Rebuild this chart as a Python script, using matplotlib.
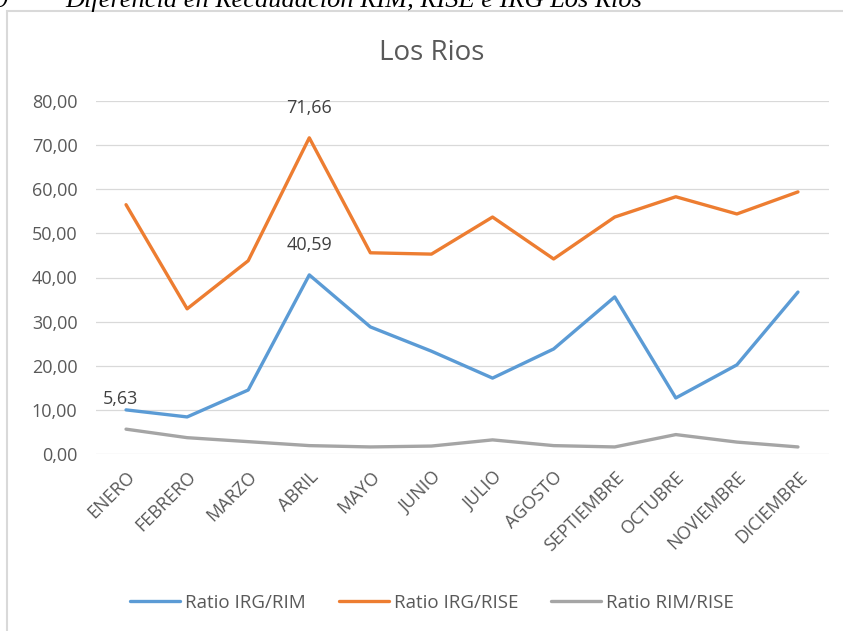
import matplotlib.pyplot as plt
from matplotlib.patches import Rectangle

meses = ["ENERO", "FEBRERO", "MARZO", "ABRIL", "MAYO", "JUNIO", "JULIO",
         "AGOSTO", "SEPTIEMBRE", "OCTUBRE", "NOVIEMBRE", "DICIEMBRE"]
irg_rim = [10.0, 8.4, 14.5, 40.59, 28.8, 23.3, 17.2, 23.8, 35.6, 12.7, 20.2, 36.7]
irg_rise = [56.5, 32.9, 43.8, 71.66, 45.6, 45.3, 53.7, 44.2, 53.7, 58.3, 54.4, 59.4]
rim_rise = [5.63, 3.7, 2.8, 1.9, 1.6, 1.8, 3.2, 1.9, 1.6, 4.4, 2.7, 1.6]
yticks = [0, 10, 20, 30, 40, 50, 60, 70, 80]

plt.rcParams['font.family'] = ['Open Sans', 'DejaVu Sans']
W, H = 843, 631
fig = plt.figure(figsize=(W / 100, H / 100), dpi=100)

# outer chart frame
fig.patches.append(Rectangle((7 / W, -0.1), 1.0, (H - 11) / H + 0.1,
                             transform=fig.transFigure, fill=False,
                             edgecolor="#d9d9d9", lw=1.5))

# caption above the chart (cut off at the top)
fig.text(-6 / W, 1 - 7 / H, "9", family="Liberation Serif", style="italic",
         fontsize=19, color="black", va="baseline", ha="left")
fig.text(65 / W, 1 - 7 / H, "Diferencia en Recaudación RIM, RISE e IRG Los Ríos",
         family="Liberation Serif", style="italic", fontsize=19,
         color="black", va="baseline", ha="left")

ax = fig.add_axes([95.5 / W, (H - 454) / H, 733 / W, 353 / H])
x = list(range(len(meses)))
ax.plot(x, irg_rim, color="#5B9BD5", lw=2.4, label="Ratio IRG/RIM", solid_capstyle="round")
ax.plot(x, irg_rise, color="#ED7D31", lw=2.4, label="Ratio IRG/RISE", solid_capstyle="round")
ax.plot(x, rim_rise, color="#A5A5A5", lw=2.4, label="Ratio RIM/RISE", solid_capstyle="round")

ax.set_xlim(-0.5, len(meses) - 0.5)
ax.set_ylim(0, 80)
ax.set_yticks(yticks)
ax.set_yticklabels([f"{v:.2f}".replace(".", ",") for v in yticks])
ax.set_xticks(x)
ax.set_xticklabels(meses, rotation=45, ha="right", rotation_mode="anchor")
ax.tick_params(length=0, labelsize=13, colors="#595959")
ax.tick_params(axis="y", pad=13)
ax.tick_params(axis="x", pad=10)
ax.grid(axis="y", color="#d9d9d9", lw=0.9)
ax.set_axisbelow(True)
for s in ax.spines.values():
    s.set_visible(False)

def lab(v):
    return f"{v:.2f}".replace(".", ",")

ax.annotate(lab(irg_rise[3]), (3, irg_rise[3]), xytext=(0, 15), textcoords="offset points",
            ha="center", va="bottom", fontsize=13, color="#404040")
ax.annotate(lab(irg_rim[3]), (3, irg_rim[3]), xytext=(0, 15), textcoords="offset points",
            ha="center", va="bottom", fontsize=13, color="#404040")
ax.annotate(lab(rim_rise[0]), (0, rim_rise[0]), xytext=(-4, 15), textcoords="offset points",
            ha="center", va="bottom", fontsize=13, color="#404040")

fig.text(432 / W, 1 - 53 / H, "Los Rios", ha="center", va="center", fontsize=20, color="#595959")

ax.legend(loc="center", bbox_to_anchor=(432 / W, 1 - 603 / H), bbox_transform=fig.transFigure,
          ncol=3, frameon=False, fontsize=13.5, handlelength=2.67, handletextpad=0.27,
          columnspacing=1.76, labelcolor="#595959")

fig.savefig("out.png", dpi=100)
